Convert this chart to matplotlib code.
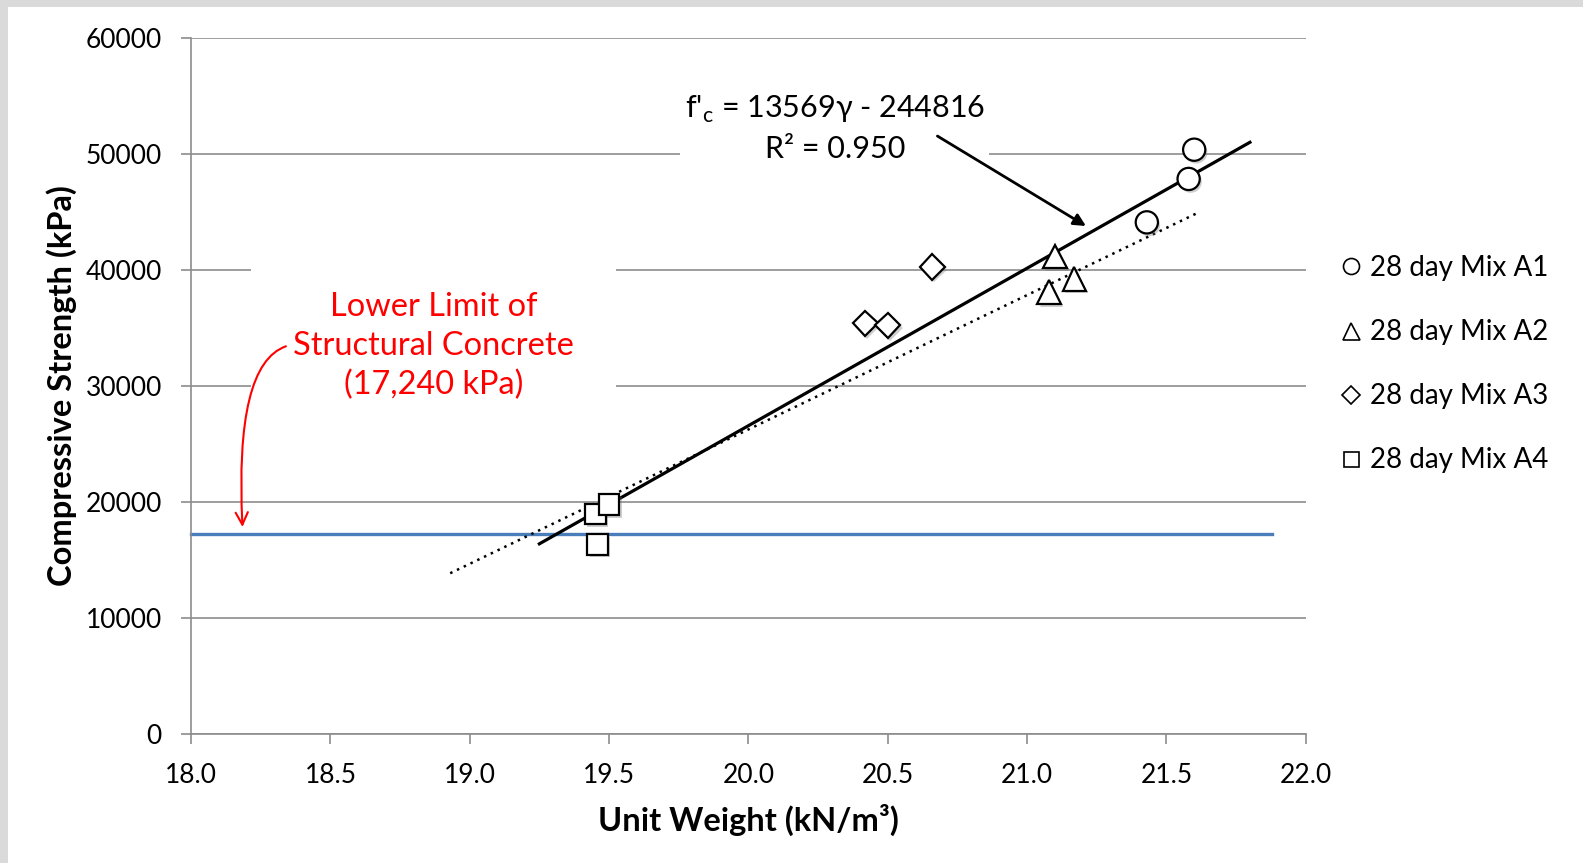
"""
Compressive strength vs unit weight
"""
import matplotlib
matplotlib.use("Agg")
import matplotlib.pyplot as plt
import matplotlib.patheffects as pe
from matplotlib.patches import Rectangle
import numpy as np

plt.rcParams["font.family"] = ["Lato", "DejaVu Sans"]

# data
a1_x = [21.60, 21.58, 21.43]
a1_y = [50350, 47830, 44090]
a2_x = [21.10, 21.08, 21.17]
a2_y = [41130, 38090, 39220]
a3_x = [20.66, 20.42, 20.50]
a3_y = [40260, 35390, 35220]
a4_x = [19.45, 19.50, 19.46]
a4_y = [18960, 19740, 16350]

series_labels = ["28 day Mix A1", "28 day Mix A2", "28 day Mix A3", "28 day Mix A4"]
series_markers = ["o", "^", "D", "s"]

# fitted line f'c = 13569*g - 244816
fit_slope, fit_icpt = 13569, -244816
fit_range = [19.25, 21.80]
# dotted trend line
dot_slope, dot_icpt = 11577, -205300
dot_range = [18.93, 21.61]

limit_value = 17240
limit_range = [18.0, 21.88]

xticks = [18.0, 18.5, 19.0, 19.5, 20.0, 20.5, 21.0, 21.5, 22.0]
yticks = [0, 10000, 20000, 30000, 40000, 50000, 60000]

fig = plt.figure(figsize=(15.83, 8.63), dpi=100, facecolor="white")
# gray slide border strips on the left and top
fig.patches.append(Rectangle((0, 0), 8 / 1583, 1, transform=fig.transFigure,
                             facecolor="#dadada", edgecolor="none", zorder=-5))
fig.patches.append(Rectangle((0, 1 - 7 / 863), 1, 7 / 863, transform=fig.transFigure,
                             facecolor="#dadada", edgecolor="none", zorder=-5))
ax = fig.add_axes([0.1207, 0.1495, 0.7041, 0.8068])
ax.set_facecolor("none")

gray = "#8c8c8c"
ax.set_xlim(18.0, 22.0)
ax.set_ylim(0, 60000)
ax.set_xticks(xticks)
ax.set_xticklabels([f"{t:.1f}" for t in xticks])
ax.set_yticks(yticks)
ax.grid(axis="y", color=gray, lw=1.2)
ax.set_axisbelow(True)
for s in ["top", "right"]:
    ax.spines[s].set_visible(False)
for s in ["left", "bottom"]:
    ax.spines[s].set_color(gray)
    ax.spines[s].set_linewidth(1.2)
ax.tick_params(axis="both", colors=gray, labelcolor="black", labelsize=19,
               length=7, width=1.2)
ax.tick_params(axis="y", pad=14)
ax.tick_params(axis="x", pad=14)

ax.set_xlabel("Unit Weight (kN/m³)", fontsize=23.5, fontweight="bold", labelpad=11)
ax.set_ylabel("Compressive Strength (kPa)", fontsize=23.5, fontweight="bold", labelpad=6)

# limit line
ax.plot(limit_range, [limit_value, limit_value], color="#4a7ebb", lw=2.4, zorder=2,
        clip_on=False)

# trend lines
xf = np.array(fit_range)
ax.plot(xf, fit_slope * xf + fit_icpt, color="black", lw=2.3, zorder=3)
xd = np.array(dot_range)
ax.plot(xd, dot_slope * xd + dot_icpt, color="black", lw=1.8, ls=(0, (1, 2)), zorder=3)

shadow = [pe.SimplePatchShadow(offset=(1.5, -2), shadow_rgbFace="#777777", alpha=0.35),
          pe.Normal()]
xs = [a1_x, a2_x, a3_x, a4_x]
ys = [a1_y, a2_y, a3_y, a4_y]
sizes = [16, 17, 13, 15]
for x, y, m, lab, ms in zip(xs, ys, series_markers, series_labels, sizes):
    ax.plot(x, y, ls="none", marker=m, ms=ms, mfc="white", mec="black", mew=1.6,
            label=lab, zorder=4, path_effects=shadow)

# legend as glyph markers
leg = ax.legend(loc="center left", bbox_to_anchor=(1.008, 0.531), frameon=False,
                fontsize=20, labelspacing=1.37, handlelength=0.8, handletextpad=0.3,
                markerscale=0.72)
for h in leg.legend_handles:
    h.set_path_effects([])
    h.set_markeredgewidth(1.2)

# equation label
ax.text(20.31, 52200, "f'$_{\\mathregular{c}}$ = 13569γ - 244816\nR² = 0.950",
        ha="center", va="center", fontsize=22, linespacing=1.45,
        bbox=dict(facecolor="white", edgecolor="none", pad=3), zorder=3)
ax.annotate("", xy=(21.22, 43650), xytext=(20.67, 51650),
            arrowprops=dict(arrowstyle="-|>", color="black", lw=2,
                            mutation_scale=18), zorder=5)

# lower limit label
ax.text(18.87, 33450, "Lower Limit of\nStructural Concrete\n(17,240 kPa)",
        ha="center", va="center", fontsize=23.4, color="#ff0000", linespacing=1.36,
        bbox=dict(facecolor="white", edgecolor="none", pad=30), zorder=3)
ax.annotate("", xy=(18.185, 17600), xytext=(18.35, 33480),
            arrowprops=dict(arrowstyle="->", color="#ff0000", lw=1.5,
                            mutation_scale=22,
                            connectionstyle="angle3,angleA=15,angleB=93"),
            zorder=5)

fig.savefig("out.png", dpi=100, facecolor=fig.get_facecolor())
